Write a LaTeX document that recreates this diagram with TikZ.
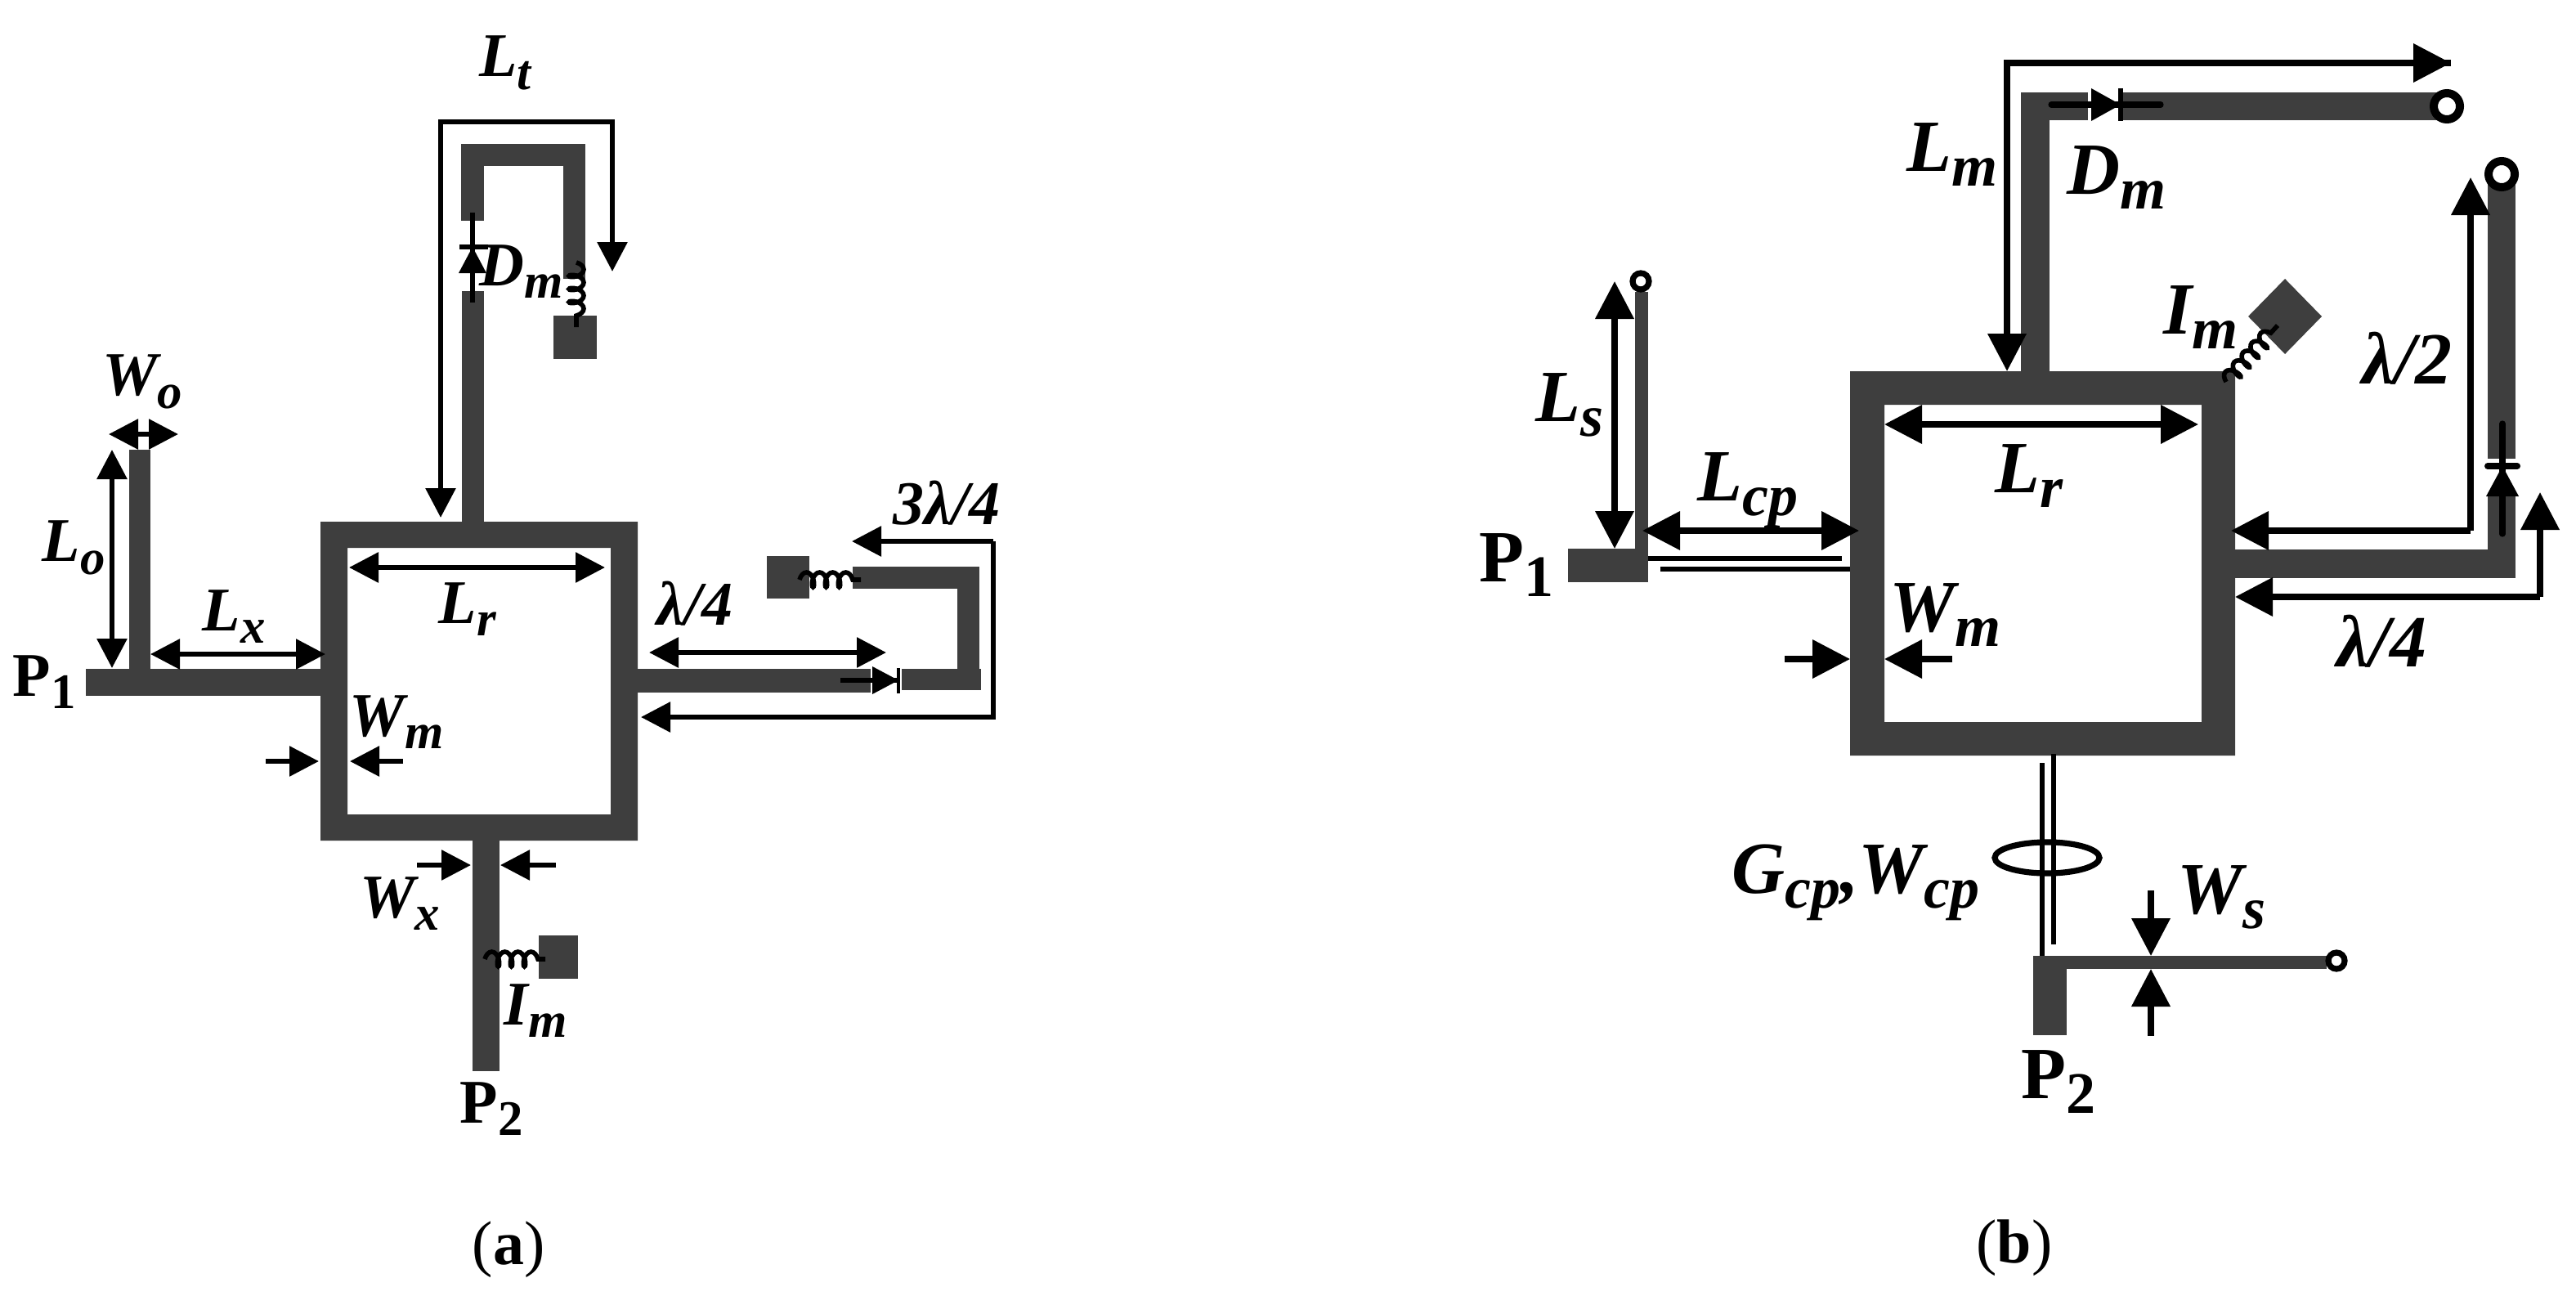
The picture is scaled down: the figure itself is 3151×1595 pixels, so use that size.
\documentclass[tikz,border=0pt]{standalone}
\usepackage{fontspec}
\setmainfont{Liberation Serif}
\newfontfamily\lblfont{Liberation Serif}
\usetikzlibrary{arrows.meta,decorations.pathmorphing}
\definecolor{stripgray}{HTML}{3E3E3E}
\newcommand{\subl}[2]{#1\raisebox{-.2em}{\fontsize{.8\dimexpr\fsz\relax}{10pt}\selectfont #2}}
\newcommand{\fsz}{38pt}
\tikzstyle{strip} = [fill=stripgray, draw=none]
\tikzstyle{dima} = [line width=3pt, -{Triangle[length=18pt,width=18pt]}]
\tikzstyle{dimaa} = [line width=3pt, {Triangle[length=18pt,width=18pt]}-{Triangle[length=18pt,width=18pt]}]
\tikzstyle{dimb} = [line width=3.6pt, -{Triangle[length=23pt,width=23pt]}]
\tikzstyle{dimbb} = [line width=3.6pt, {Triangle[length=23pt,width=23pt]}-{Triangle[length=23pt,width=23pt]}]
\tikzstyle{lbla} = [inner sep=0pt, font=\fontsize{38pt}{38pt}\lblfont\bfseries\itshape]
\tikzstyle{lblb} = [inner sep=0pt, font=\fontsize{45pt}{45pt}\lblfont\bfseries\itshape]
\tikzstyle{porta} = [inner sep=0pt, font=\fontsize{38pt}{38pt}\lblfont\bfseries]
\tikzstyle{portb} = [inner sep=0pt, font=\fontsize{45pt}{45pt}\lblfont\bfseries]
\tikzstyle{capt} = [inner sep=0pt, font=\fontsize{38pt}{38pt}\selectfont]
\tikzstyle{coilw} = [line width=2.8pt, decorate, decoration={coil, aspect=0.5, segment length=8pt, amplitude=4.5pt}]
\tikzstyle{ringa} = [fill=white, draw=black, line width=3.6pt]
\tikzstyle{ringb} = [fill=white, draw=black, line width=5pt]
\tikzstyle{thinl} = [line width=2.8pt]
\begin{document}
\begin{tikzpicture}[x=0.5pt,y=-0.5pt]
    \useasboundingbox (0,0) rectangle (3151,1595);
    % --- (a) ---
    \fill[strip,even odd rule] (392,638) rectangle (780,1028) (425,670) rectangle (747,996);
    \fill[strip] (105,818) rectangle (392,851);
    \fill[strip] (158,550) rectangle (184,818);
    \fill[strip] (578,1028) rectangle (611,1310);
    \fill[strip] (565,356) rectangle (592,638);
    \fill[strip] (564,176) rectangle (592,270);
    \fill[strip] (564,176) rectangle (716,203);
    \fill[strip] (689,176) rectangle (716,341);
    \fill[strip] (677,386) rectangle (730,439);
    \fill[strip] (780,818) rectangle (1065,847);
    \fill[strip] (1103,818) rectangle (1200,844);
    \fill[strip] (1171,693) rectangle (1198,818);
    \fill[strip] (1043,693) rectangle (1198,720);
    \fill[strip] (938,680) rectangle (990,732);
    \fill[strip] (659,1144) rectangle (707,1197);
    % diodes and coils
    \draw[line width=3pt] (578,260) -- (578,370);
    \draw[line width=3.2pt] (562,302) -- (597,302);
    \fill (578,302) -- (595,334) -- (561,334) -- cycle;
    \draw[line width=3pt] (1028,832) -- (1099,832);
    \draw[line width=2pt] (1099,817) -- (1099,848);
    \fill (1099,832) -- (1067,815) -- (1067,849) -- cycle;
    \draw[coilw] (705,321) -- (705,400);
    \draw[coilw] (978,709) -- (1053,709);
    \draw[coilw] (593,1173) -- (667,1173);
    % dimension arrows
    \draw[dima] (539,149) -- (749,149) -- (749,332);
    \draw[dima] (749,149) -- (539,149) -- (539,633);
    \draw[dimaa] (133,531) -- (218,531);
    \draw[dimaa] (137,550) -- (137,817);
    \draw[dimaa] (184,800) -- (398,800);
    \draw[dimaa] (427,694) -- (740,694);
    \draw[dimaa] (794,798) -- (1084,798);
    \draw[dima] (1215,662) -- (1042,662);
    \draw[dima] (1215,662) -- (1215,877) -- (784,877);
    \draw[dima] (325,931) -- (390,931);
    \draw[dima] (493,931) -- (428,931);
    \draw[dima] (510,1058) -- (576,1058);
    \draw[dima] (680,1058) -- (612,1058);
    % labels
    \node (Lt) [lbla] at (618,77) {\subl{L}{t}};
    \node (Dma) [lbla] at (638,332) {\subl{D}{m}};
    \node (Wo) [lbla] at (174,467) {\subl{W}{o}};
    \node (Lo) [lbla] at (90,670) {\subl{L}{o}};
    \node (Lx) [lbla] at (286,754) {\subl{L}{x}};
    \node (Lra) [lbla] at (572,745) {\subl{L}{r}};
    \node (qa) [lbla] at (850,738) {λ/4};
    \node (tq) [lbla] at (1158,615) {3λ/4};
    \node (Wma) [lbla] at (485,883) {\subl{W}{m}};
    \node (Wx) [lbla] at (489,1105) {\subl{W}{x}};
    \node (Ima) [lbla] at (655,1236) {\subl{I}{m}};
    \node (P1a) [porta] at (54,834) {\subl{P}{1}};
    \node (P2a) [porta] at (601,1356) {\subl{P}{2}};
    \node (capa) [capt] at (622,1528) {(\textbf{a})};
    % --- (b) ---
    \fill[strip,even odd rule] (2263,454) rectangle (2734,924) (2305,495) rectangle (2693,883);
    \fill[strip] (2472,113) rectangle (2507,454);
    \fill[strip] (2472,113) rectangle (2554,147);
    \fill[strip] (2594,113) rectangle (2982,147);
    \fill[strip] (2734,672) rectangle (3077,707);
    \fill[strip] (3043,607) rectangle (3077,707);
    \fill[strip] (3043,224) rectangle (3077,561);
    \fill[strip] (2000,357) rectangle (2016,671);
    \fill[strip] (1918,671) rectangle (2016,712);
    \fill[strip] (2487,1169) rectangle (2528,1266);
    \fill[strip] (2487,1169) rectangle (2846,1185);
    \fill[strip] (2795,341) -- (2840,387) -- (2795,433) -- (2750,387) -- cycle;
    % coupled lines
    \draw[thinl] (2016,683) -- (2253,683);
    \draw[thinl] (2031,696) -- (2263,696);
    \draw[thinl] (2512,922) -- (2512,1155);
    \draw[thinl] (2498,933) -- (2498,1169);
    \draw[line width=3.6pt] (2504,1049) ellipse [x radius=32pt, y radius=9.5pt];
    % open ends
    \draw[ringb] (2993,130) circle [radius=8pt];
    \draw[ringb] (3060,213) circle [radius=8pt];
    \draw[ringa] (2007,344) circle [radius=5pt];
    \draw[ringa] (2858,1175) circle [radius=5pt];
    % diodes and coil
    \draw[line width=3.6pt, line cap=round] (2509,128) -- (2643,128);
    \draw[line width=3pt] (2594,108) -- (2594,148);
    \fill (2594,128) -- (2558,108) -- (2558,148) -- cycle;
    \draw[line width=3.6pt, line cap=round] (3061,518) -- (3061,653);
    \draw[line width=4pt, line cap=round] (3043,570) -- (3079,570);
    \fill (3061,570) -- (3081,607) -- (3041,607) -- cycle;
    \draw[coilw] (2723,467) -- (2786,398);
    % dimension arrows
    \draw[dimb] (2998,77) -- (2455,77) -- (2455,454);
    \draw[dimb] (2455,77) -- (2998,77);
    \draw[dimb] (3022,649) -- (2729,649);
    \draw[dimb] (3022,649) -- (3022,217);
    \draw[dimb] (3107,730) -- (2734,730);
    \draw[dimb] (3107,730) -- (3107,602);
    \draw[dimbb] (2305,519) -- (2689,519);
    \draw[dimbb] (2009,649) -- (2274,649);
    \draw[dimbb] (1975,344) -- (1975,671);
    \draw[dimb] (2183,806) -- (2263,806);
    \draw[dimb] (2388,806) -- (2305,806);
    \draw[dimb] (2631,1089) -- (2631,1169);
    \draw[dimb] (2631,1267) -- (2631,1185);
    % labels
    \renewcommand{\fsz}{45pt}
    \node (Lm) [lblb] at (2388,189) {\subl{L}{m}};
    \node (Dmb) [lblb] at (2589,217) {\subl{D}{m}};
    \node (Imb) [lblb] at (2692,388) {\subl{I}{m}};
    \node (half) [lblb] at (2944,438) {λ/2};
    \node (Lrb) [lblb] at (2482,582) {\subl{L}{r}};
    \node (Lcp) [lblb] at (2138,600) {\subl{L}{cp}};
    \node (Ls) [lblb] at (1920,495) {\subl{L}{s}};
    \node (qb) [lblb] at (2913,784) {λ/4};
    \node (Wmb) [lblb] at (2379,752) {\subl{W}{m}};
    \node (GW) [lblb] at (2270,1079) {\subl{G}{cp},\subl{W}{cp}};
    \node (Ws) [lblb] at (2717,1097) {\subl{W}{s}};
    \node (P1b) [portb] at (1855,691) {\subl{P}{1}};
    \node (P2b) [portb] at (2518,1323) {\subl{P}{2}};
    \node (capb) [capt] at (2464,1526) {(\textbf{b})};
\end{tikzpicture}
\end{document}
